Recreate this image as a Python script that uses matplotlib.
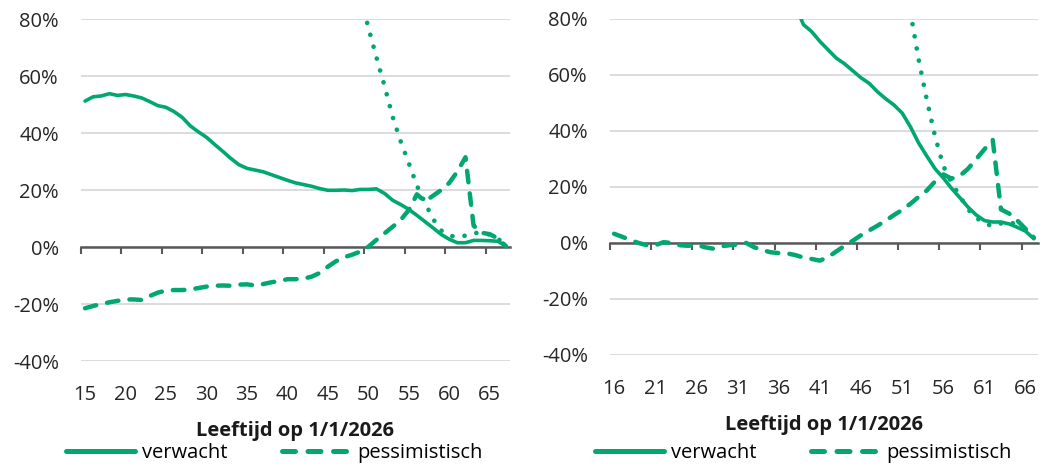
import numpy as np
import matplotlib
matplotlib.use("Agg")
from matplotlib import pyplot as plt

plt.rcParams['font.family'] = ['Open Sans', 'DejaVu Sans']

GREEN = "#00a870"
FS = 14.5
nan = np.nan

# left panel: ages 15..67
ages_l = list(range(15, 68))
verwacht_l = [51.2, 52.7, 53.0, 53.8, 53.2, 53.5, 53.0, 52.3, 51.0, 49.6,
              49.0, 47.5, 45.5, 42.5, 40.4, 38.5, 36.0, 33.6, 31.1, 28.9,
              27.6, 27.0, 26.4, 25.4, 24.4, 23.4, 22.5, 21.9, 21.3, 20.5,
              19.9, 19.9, 20.0, 19.8, 20.2, 20.2, 20.4, 18.8, 16.4, 14.9,
              13.2, 11.1, 8.9, 6.7, 4.4, 2.7, 1.5, 1.5, 2.3, 2.3,
              2.2, 2.0, 0.3]
pessim_l = [-21.5, -20.7, -20.0, -19.4, -18.9, -18.4, -18.4, -18.6, -17.2, -16.0,
            -15.3, -15.1, -15.1, -14.9, -14.4, -13.9, -13.6, -13.5, -13.6, -13.2,
            -13.1, -13.5, -13.0, -12.4, -11.9, -11.3, -11.3, -11.1, -10.4, -9.1,
            -6.9, -5.0, -3.6, -2.7, -1.6, 0.1, 2.5, 4.8, 7.1, 9.5,
            13.0, 18.5, 16.0, 18.0, 20.0, 22.5, 26.5, 31.5, 7.5, 5.0,
            4.5, 3.0, 0.3]
ages_dot_l = list(range(49, 68))
dotted_l = [88, 77, 66.5, 56.5, 45.7, 37, 29.4, 21.5, 15.5, 9.8,
            5.8, 4.0, 3.5, 4.0, 5.0, 4.8, 4.4, 3.0, 0.3]

# right panel: ages 16..67
ages_r = list(range(16, 68))
verwacht_r = [nan] * 22 + [85, 78, 75.5, 72, 69, 66, 64, 61.5, 59, 57,
                           54, 51.5, 49.3, 46.4, 41.5, 35.7, 31, 26.5, 23.2, 19.5,
                           16.2, 12.8, 10, 8, 7.5, 7.5, 6.8, 5.6, 4.2, 1.5]
pessim_r = [3.3, 2.2, 1.0, 0.0, -0.8, -0.8, 0.3, 0.0, -0.8, -1.0,
            -0.6, -1.5, -2.0, -1.2, -0.8, -0.6, 0.1, -1.5, -2.5, -3.3,
            -3.6, -3.7, -4.3, -5.2, -5.7, -6.3, -5.0, -3.0, -1.0, 0.8,
            2.8, 4.5, 6.2, 8.0, 10.0, 11.8, 14.0, 16.5, 18.8, 22.0,
            24.5, 23.0, 24.0, 26.5, 30.0, 33.5, 36.8, 12.0, 10.5, 8.0,
            5.0, 1.9]
ages_dot_r = list(range(52, 68))
dotted_r = [82.5, 65.5, 51, 38, 27.5, 21.5, 16.8, 12, 9, 7,
            6, 7, 7.5, 6.5, 4.5, 1.9]

yticks = [-40, -20, 0, 20, 40, 60, 80]
xlabel = "Leeftijd op 1/1/2026"

fig = plt.figure(figsize=(10.5, 4.68), dpi=100)


def panel(rect, ages, verw, pess, ages_dot, dot, first_label, leg_x):
    ax = fig.add_axes(rect)
    ax.plot(ages_dot, dot, color=GREEN, lw=3.4, ls=(0, (0.01, 2.6)),
            dash_capstyle='round', zorder=3)
    ax.plot(ages, verw, color=GREEN, lw=2.6, zorder=4, label="verwacht",
            solid_joinstyle='round', solid_capstyle='round')
    ax.plot(ages, pess, color=GREEN, lw=3.2, ls=(0, (2.6, 2.5)), zorder=4,
            dash_capstyle='round', label="pessimistisch")
    ax.set_xlim(ages[0] - 0.5, ages[-1] + 0.5)
    ax.set_ylim(-40, 80)
    ax.set_yticks(yticks)
    ax.set_yticklabels([f"{v}%" for v in yticks])
    ax.tick_params(axis='y', length=0, pad=16, labelsize=FS, labelcolor="#262626")
    ax.yaxis.grid(True, color="#d9d9d9", lw=1.3)
    ax.set_axisbelow(True)
    for s in ['top', 'right', 'left']:
        ax.spines[s].set_visible(False)
    ax.spines['bottom'].set_position(('data', 0))
    ax.spines['bottom'].set_color("#595959")
    ax.spines['bottom'].set_linewidth(1.8)
    ax.spines['bottom'].set_zorder(2.5)
    edges = [first_label - 0.5 + 5 * k for k in range(11)]
    ax.set_xticks(edges)
    ax.tick_params(axis='x', direction='out', length=5, width=1.5,
                   color="#595959", labelbottom=False)
    sec = ax.secondary_xaxis('bottom')
    sec.set_xticks([first_label + 5 * k for k in range(11)])
    sec.tick_params(length=0, pad=17.5, labelsize=FS, labelcolor="#262626")
    sec.spines['bottom'].set_visible(False)
    sec.set_xlabel(xlabel, fontsize=FS, fontweight='bold', labelpad=11,
                   color="#1a1a1a")
    leg = ax.legend(loc='center', bbox_to_anchor=(leg_x, 0.031),
                    bbox_transform=fig.transFigure, ncol=2, frameon=False,
                    fontsize=FS, handlelength=3.4, handletextpad=0.35,
                    columnspacing=2.7, borderaxespad=0, borderpad=0)
    for ln in leg.get_lines():
        ln.set_linewidth(3.6)
    return ax


panel([81 / 1050, 1 - 361 / 468, 429 / 1050, 342 / 468],
      ages_l, verwacht_l, pessim_l, ages_dot_l, dotted_l, 15, 274.5 / 1050)
panel([610 / 1050, 1 - 355 / 468, 428 / 1050, 336 / 468],
      ages_r, verwacht_r, pessim_r, ages_dot_r, dotted_r, 16, 803.5 / 1050)

fig.savefig("out.png", dpi=100)
